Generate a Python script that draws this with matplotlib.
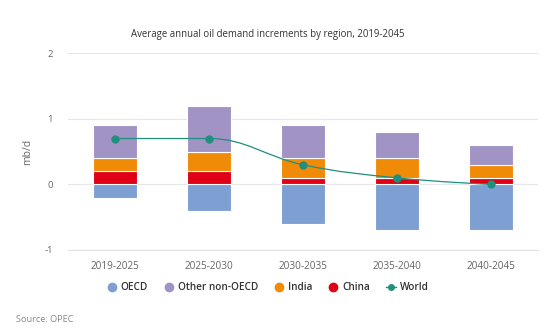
import numpy as np
import matplotlib.pyplot as plt
from matplotlib.path import Path
from matplotlib.patches import PathPatch
from matplotlib.lines import Line2D

plt.rcParams['font.family'] = ['Open Sans', 'DejaVu Sans']

periods = ["2019-2025", "2025-2030", "2030-2035", "2035-2040", "2040-2045"]
oecd = [-0.2, -0.4, -0.6, -0.7, -0.7]
china = [0.2, 0.2, 0.1, 0.1, 0.1]
india = [0.2, 0.3, 0.3, 0.3, 0.2]
other = [0.5, 0.7, 0.5, 0.4, 0.3]
world = [0.7, 0.7, 0.3, 0.1, 0.0]

c_oecd = "#7d9fd2"
c_other = "#a194c4"
c_india = "#ef8b07"
c_china = "#e00016"
c_world = "#1f8f7e"


def spline_path(xs, ys, smoothing=1.5):
    # highcharts-like spline through the points
    n = len(xs)
    lc = [(x, y) for x, y in zip(xs, ys)]
    rc = [(x, y) for x, y in zip(xs, ys)]
    d = smoothing + 1
    for i in range(1, n - 1):
        px, py = xs[i], ys[i]
        lx, ly = xs[i - 1], ys[i - 1]
        nx, ny = xs[i + 1], ys[i + 1]
        lcx = (smoothing * px + lx) / d
        lcy = (smoothing * py + ly) / d
        rcx = (smoothing * px + nx) / d
        rcy = (smoothing * py + ny) / d
        corr = (rcy - lcy) * (rcx - px) / (rcx - lcx) + py - rcy
        lcy += corr
        rcy += corr
        if lcy > ly and lcy > py:
            lcy = max(ly, py); rcy = 2 * py - lcy
        elif lcy < ly and lcy < py:
            lcy = min(ly, py); rcy = 2 * py - lcy
        if rcy > ny and rcy > py:
            rcy = max(ny, py); lcy = 2 * py - rcy
        elif rcy < ny and rcy < py:
            rcy = min(ny, py); lcy = 2 * py - rcy
        lc[i] = (lcx, lcy)
        rc[i] = (rcx, rcy)
    verts = [(xs[0], ys[0])]
    codes = [Path.MOVETO]
    for i in range(1, n):
        verts += [rc[i - 1], lc[i], (xs[i], ys[i])]
        codes += [Path.CURVE4] * 3
    return Path(verts, codes)


fig = plt.figure(figsize=(5.5, 3.34), dpi=100)
ax = fig.add_axes([0.1236, 0.2515, 0.8545, 0.589])

x = np.arange(len(periods))
w = 0.47
bar_kw = dict(width=w, edgecolor="white", linewidth=0.8, zorder=2)
ax.bar(x, oecd, color=c_oecd, **bar_kw)
ax.bar(x, china, color=c_china, **bar_kw)
ax.bar(x, india, bottom=china, color=c_india, **bar_kw)
ax.bar(x, other, bottom=np.array(china) + np.array(india), color=c_other, **bar_kw)

ax.add_patch(PathPatch(spline_path(list(x), world), fill=False,
                       edgecolor=c_world, linewidth=0.9, zorder=3))
ax.plot(x, world, linestyle="none", marker="o", markersize=5,
        color=c_world, zorder=4)

ax.set_xlim(-0.5, len(periods) - 0.5)
ax.set_ylim(-1, 2)
ax.set_yticks([-1, 0, 1, 2])
ax.set_yticklabels(["-1", "0", "1", "2"])
ax.set_xticks(x)
ax.set_xticklabels(periods)
ax.grid(axis="y", color="#e6e6e6", linewidth=0.8, zorder=0)
ax.set_axisbelow(True)
for s in ["top", "right", "left"]:
    ax.spines[s].set_visible(False)
ax.spines["bottom"].set_color("#e0e0e0")
ax.spines["bottom"].set_linewidth(0.8)
ax.tick_params(length=0, labelsize=7.2, colors="#666666", pad=8)
ax.tick_params(axis="y", pad=11, labelsize=6.8)
ax.set_ylabel("mb/d", fontsize=7.5, color="#666666", labelpad=8)

fig.text(0.487, 0.898, "Average annual oil demand increments by region, 2019-2045",
         ha="center", va="center", fontsize=6.9, color="#333333")

handles = [
    Line2D([], [], linestyle="none", marker="o", markersize=6, color=c_oecd),
    Line2D([], [], linestyle="none", marker="o", markersize=6, color=c_other),
    Line2D([], [], linestyle="none", marker="o", markersize=6, color=c_india),
    Line2D([], [], linestyle="none", marker="o", markersize=6, color=c_china),
    Line2D([], [], marker="o", markersize=4, color=c_world, linewidth=1),
]
labels = ["OECD", "Other non-OECD", "India", "China", "World"]
leg = fig.legend(handles, labels, loc="center", bbox_to_anchor=(0.487, 0.138),
                 ncol=5, frameon=False, handlelength=1.0, handletextpad=0.4,
                 columnspacing=1.6, prop={"size": 7.2, "weight": "semibold"})
for t in leg.get_texts():
    t.set_color("#333333")

fig.text(0.029, 0.042, "Source: OPEC", fontsize=6.6, color="#888888",
         ha="left", va="center")

fig.savefig("out.png", dpi=100)
